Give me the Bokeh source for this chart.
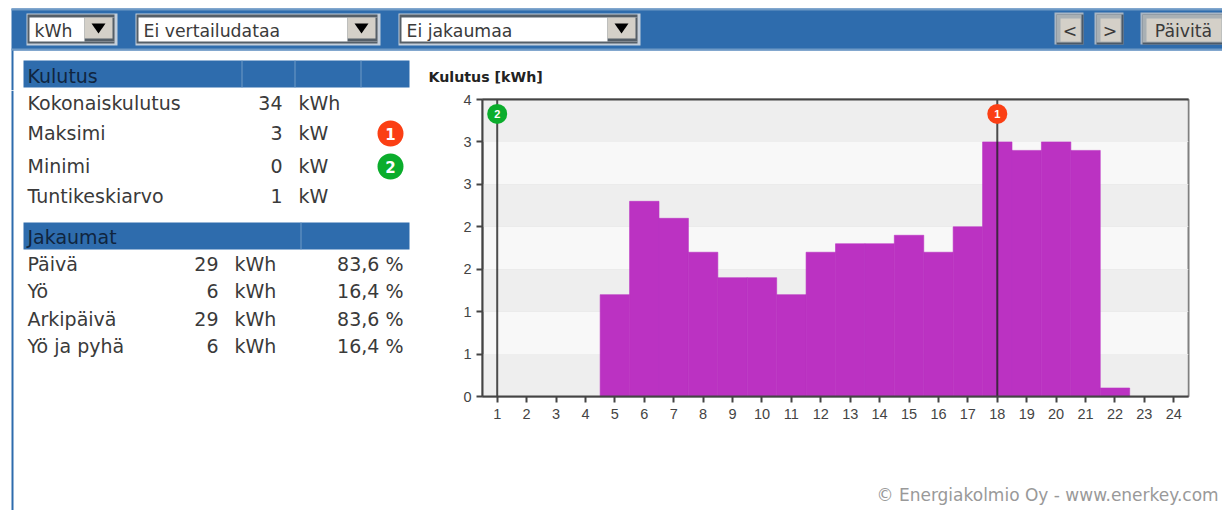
from bokeh.plotting import figure
from bokeh.embed import file_html
from bokeh.resources import INLINE
from bokeh.layouts import column, row
from bokeh.models import FixedTicker, LinearAxis, Range1d
from bokeh.core.properties import value

# ---- data ----
hours = list(range(1, 25))
consumption = [0, 0, 0, 0, 1.2, 2.3, 2.1, 1.7, 1.4, 1.4, 1.2, 1.7,
               1.8, 1.8, 1.9, 1.7, 2.0, 3.0, 2.9, 3.0, 2.9, 0.1, 0, 0]
y_ticks = [0, 0.5, 1, 1.5, 2, 2.5, 3, 3.5]
y_tick_labels = ["0", "1", "1", "2", "2", "3", "3", "4"]
marker_hours = [18, 1]
marker_labels = ["1", "2"]
marker_colors = ["#fb3f14", "#0bad2c"]
kulutus_rows = [("Kokonaiskulutus", "34", "kWh"), ("Maksimi", "3", "kW"),
                ("Minimi", "0", "kW"), ("Tuntikeskiarvo", "1", "kW")]
jakaumat_rows = [("Päivä", "29", "kWh", "83,6 %"), ("Yö", "6", "kWh", "16,4 %"),
                 ("Arkipäivä", "29", "kWh", "83,6 %"), ("Yö ja pyhä", "6", "kWh", "16,4 %")]
chart_title = "Kulutus [kWh]"
footer = "© Energiakolmio Oy - www.enerkey.com"

# ---- page geometry ----
W, H = 1222, 510
TOP_H = 90
LEFT_W = 420
CHART_B = 430
F_L, F_T, F_R, F_B = 482, 99, 1188, 396
marker_level = 3.33
kulutus_y = [102, 132, 165, 195]
jakaumat_y = [263, 290, 318, 345]
BLUE = "#2e6cad"
PALE = "#6f9ac6"
UI = "#d4d0c8"
TXT = "#3a3a3a"
SANS = "DejaVu Sans"
TABLE_SIZE = "19px"
CTRL_SIZE = "17.3px"


def panel(x0, y0, x1, y1):
    f = figure(width=x1 - x0, height=y1 - y0, output_backend="svg", toolbar_location=None,
               x_range=Range1d(x0, x1), y_range=Range1d(y1, y0),
               min_border=0, x_axis_type=None, y_axis_type=None,
               background_fill_color="white", border_fill_color="white")
    f.outline_line_color = None
    f.grid.visible = False
    return f


def box(f, l, t, r, b, color):
    f.quad(left=l, right=r, top=t, bottom=b, fill_color=color, line_color=None)


def label(f, x, y, s, align="left", size=TABLE_SIZE, color=TXT, font=SANS, style="normal"):
    f.text(x=[x], y=[y], text=[s], text_align=align, text_baseline="middle",
           text_font=value(font), text_font_size=size, text_color=color, text_font_style=style)


def select(f, l, r, s):
    box(f, l, 13, r, 45, "#c4cfdb")
    box(f, l + 1, 14, r - 3, 43, "#555f68")
    box(f, l + 3, 17, r - 3, 41, "white")
    box(f, r - 33, 17, r - 3, 41, "#555f68")
    box(f, r - 33, 17, r - 5, 38, UI)
    f.patch(x=[r - 26, r - 12, r - 19], y=[23, 23, 33], fill_color="black", line_color=None)
    label(f, l + 8, 30, s, size=CTRL_SIZE)


def button(f, l, r, s):
    box(f, l, 12, r, 44, "#a9b6c4")
    box(f, l + 2, 14, r, 44, "#4c5a68")
    box(f, l + 2, 14, r - 2, 42, "#a9b0b4")
    box(f, l + 6, 18, r - 3, 41, UI)
    label(f, (l + r) / 2 + 1, 30, s, align="center", size=CTRL_SIZE)


# top strip: toolbar, first table header, chart title
top = panel(0, 0, W, TOP_H)
box(top, 11, 8, W, 50, BLUE)
box(top, 11, 8, W, 10, PALE)
box(top, 11, 48, W, 50, PALE)
box(top, 11, 50, 13, TOP_H, BLUE)
select(top, 26, 117, "kWh")
select(top, 135, 380, "Ei vertailudataa")
select(top, 398, 640, "Ei jakaumaa")
button(top, 1054, 1083, "<")
button(top, 1094, 1123, ">")
button(top, 1140, 1224, "Päivitä")
box(top, 23, 60, 409, 87, BLUE)
for sx in (241, 294, 360):
    box(top, sx, 60, sx + 1, 87, PALE)
label(top, 27, 75, "Kulutus", color="#10253f")
label(top, 428, 76, chart_title, size="14.2px", color="#222222", style="bold")

# left column: tables
left = panel(0, TOP_H, LEFT_W, H)
box(left, 11, TOP_H, 13, H, BLUE)
for (name, val, unit), y in zip(kulutus_rows, kulutus_y):
    label(left, 27, y, name)
    label(left, 282, y, val, align="right")
    label(left, 298, y, unit)
for txt, color, y in zip(marker_labels, marker_colors, kulutus_y[1:3]):
    left.scatter(x=[390], y=[y + 1], size=26, fill_color=color, line_color=None)
    label(left, 390, y + 1, txt, align="center", color="white", size="15px", style="bold")
box(left, 23, 222, 409, 249, BLUE)
box(left, 300, 222, 301, 249, PALE)
label(left, 27, 236, "Jakaumat", color="#10253f")
for (name, val, unit, pct), y in zip(jakaumat_rows, jakaumat_y):
    label(left, 27, y, name)
    label(left, 218, y, val, align="right")
    label(left, 234, y, unit)
    label(left, 403, y, pct, align="right")

# chart
p = figure(width=W - LEFT_W, height=CHART_B - TOP_H, output_backend="svg", toolbar_location=None,
           x_range=Range1d(0.5, 24.5), y_range=Range1d(0, 3.5),
           min_border_left=F_L - LEFT_W, min_border_top=F_T - TOP_H,
           min_border_right=W - F_R, min_border_bottom=CHART_B - F_B,
           frame_width=F_R - F_L, frame_height=F_B - F_T,
           background_fill_color="#f8f8f8", border_fill_color="white")
p.outline_line_color = "#808080"
p.outline_line_width = 2
p.xgrid.visible = False
p.ygrid.ticker = FixedTicker(ticks=y_ticks)
p.ygrid.grid_line_color = "#e4e4e4"
p.ygrid.grid_line_width = 1
band_bottom = y_ticks[0::2]
band_top = [b + 0.5 for b in band_bottom]
p.quad(left=0.5, right=24.465, bottom=band_bottom, top=band_top, fill_color="#eeeeee", line_color=None)
p.vbar(x=hours, top=consumption, width=1.0, fill_color="#bb32c2", line_color="#bb32c2", line_width=0.6)
p.segment(x0=marker_hours, x1=marker_hours, y0=0, y1=3.5, line_color="#222222", line_alpha=0.8, line_width=2)
p.scatter(x=marker_hours, y=marker_level, size=20, fill_color=marker_colors, line_color=None)
p.text(x=marker_hours, y=marker_level, text=marker_labels, text_color="white",
       text_align="center", text_baseline="middle", text_font_size="11px", text_font_style="bold")
for ax, ticks, standoff in ((p.xaxis[0], hours, 6), (p.yaxis[0], y_ticks, 5)):
    ax.ticker = FixedTicker(ticks=ticks)
    ax.axis_line_color = "#444444"
    ax.axis_line_width = 2
    ax.major_tick_line_color = "#444444"
    ax.major_tick_line_width = 2
    ax.major_tick_in = 0
    ax.major_tick_out = 6
    ax.minor_tick_line_color = None
    ax.major_label_text_color = "#444444"
    ax.major_label_text_font = "Liberation Sans"
    ax.major_label_text_font_size = "14.5px"
    ax.major_label_standoff = standoff
p.yaxis[0].major_label_overrides = {t: l for t, l in zip(y_ticks, y_tick_labels)}
top_axis = LinearAxis(ticker=FixedTicker(ticks=[]), axis_line_color="#444444", axis_line_width=2,
                      major_tick_line_color=None, minor_tick_line_color=None)
p.add_layout(top_axis, "above")

# footer strip (wrapped in a row so that its frame is not aligned with the chart's)
foot = panel(LEFT_W, CHART_B, W, H)
label(foot, 876, 494, footer, size="17px", color="#999999")

page = column(top, row(left, column(p, row(foot, spacing=0), spacing=0), spacing=0), spacing=0)
open("out.html", "w").write(file_html(page, INLINE))
